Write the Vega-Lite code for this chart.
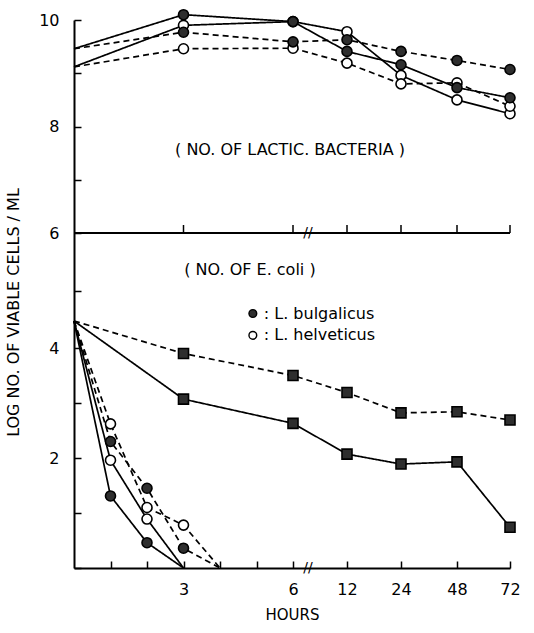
{
  "$schema": "https://vega.github.io/schema/vega-lite/v6.json",
  "width": 436,
  "height": 548,
  "autosize": {"type": "none"},
  "padding": {"left": 74, "top": 20, "right": 24, "bottom": 65},
  "background": "white",
  "config": {"view": {"stroke": null}, "font": "DejaVu Sans"},
  "datasets": {
    "obs": [
      {"group": "lactic", "culture": "helveticus", "set": "1", "series": "lactic-helveticus-1", "hour": 0, "value": 9.12},
      {"group": "lactic", "culture": "helveticus", "set": "1", "series": "lactic-helveticus-1", "hour": 3, "value": 9.9},
      {"group": "lactic", "culture": "helveticus", "set": "1", "series": "lactic-helveticus-1", "hour": 6, "value": 9.97},
      {"group": "lactic", "culture": "helveticus", "set": "1", "series": "lactic-helveticus-1", "hour": 12, "value": 9.78},
      {"group": "lactic", "culture": "helveticus", "set": "1", "series": "lactic-helveticus-1", "hour": 24, "value": 8.96},
      {"group": "lactic", "culture": "helveticus", "set": "1", "series": "lactic-helveticus-1", "hour": 48, "value": 8.5},
      {"group": "lactic", "culture": "helveticus", "set": "1", "series": "lactic-helveticus-1", "hour": 72, "value": 8.24},
      {"group": "lactic", "culture": "helveticus", "set": "2", "series": "lactic-helveticus-2", "hour": 0, "value": 9.12},
      {"group": "lactic", "culture": "helveticus", "set": "2", "series": "lactic-helveticus-2", "hour": 3, "value": 9.46},
      {"group": "lactic", "culture": "helveticus", "set": "2", "series": "lactic-helveticus-2", "hour": 6, "value": 9.47},
      {"group": "lactic", "culture": "helveticus", "set": "2", "series": "lactic-helveticus-2", "hour": 12, "value": 9.19},
      {"group": "lactic", "culture": "helveticus", "set": "2", "series": "lactic-helveticus-2", "hour": 24, "value": 8.8},
      {"group": "lactic", "culture": "helveticus", "set": "2", "series": "lactic-helveticus-2", "hour": 48, "value": 8.82},
      {"group": "lactic", "culture": "helveticus", "set": "2", "series": "lactic-helveticus-2", "hour": 72, "value": 8.38},
      {"group": "lactic", "culture": "bulgaricus", "set": "1", "series": "lactic-bulgaricus-1", "hour": 0, "value": 9.46},
      {"group": "lactic", "culture": "bulgaricus", "set": "1", "series": "lactic-bulgaricus-1", "hour": 3, "value": 10.1},
      {"group": "lactic", "culture": "bulgaricus", "set": "1", "series": "lactic-bulgaricus-1", "hour": 6, "value": 9.97},
      {"group": "lactic", "culture": "bulgaricus", "set": "1", "series": "lactic-bulgaricus-1", "hour": 12, "value": 9.41},
      {"group": "lactic", "culture": "bulgaricus", "set": "1", "series": "lactic-bulgaricus-1", "hour": 24, "value": 9.16},
      {"group": "lactic", "culture": "bulgaricus", "set": "1", "series": "lactic-bulgaricus-1", "hour": 48, "value": 8.73},
      {"group": "lactic", "culture": "bulgaricus", "set": "1", "series": "lactic-bulgaricus-1", "hour": 72, "value": 8.54},
      {"group": "lactic", "culture": "bulgaricus", "set": "2", "series": "lactic-bulgaricus-2", "hour": 0, "value": 9.46},
      {"group": "lactic", "culture": "bulgaricus", "set": "2", "series": "lactic-bulgaricus-2", "hour": 3, "value": 9.77},
      {"group": "lactic", "culture": "bulgaricus", "set": "2", "series": "lactic-bulgaricus-2", "hour": 6, "value": 9.59},
      {"group": "lactic", "culture": "bulgaricus", "set": "2", "series": "lactic-bulgaricus-2", "hour": 12, "value": 9.63},
      {"group": "lactic", "culture": "bulgaricus", "set": "2", "series": "lactic-bulgaricus-2", "hour": 24, "value": 9.41},
      {"group": "lactic", "culture": "bulgaricus", "set": "2", "series": "lactic-bulgaricus-2", "hour": 48, "value": 9.24},
      {"group": "lactic", "culture": "bulgaricus", "set": "2", "series": "lactic-bulgaricus-2", "hour": 72, "value": 9.07},
      {"group": "ecoli", "culture": "control", "set": "1", "series": "ecoli-control-1", "hour": 0, "value": 4.47},
      {"group": "ecoli", "culture": "control", "set": "1", "series": "ecoli-control-1", "hour": 3, "value": 3.07},
      {"group": "ecoli", "culture": "control", "set": "1", "series": "ecoli-control-1", "hour": 6, "value": 2.63},
      {"group": "ecoli", "culture": "control", "set": "1", "series": "ecoli-control-1", "hour": 12, "value": 2.07},
      {"group": "ecoli", "culture": "control", "set": "1", "series": "ecoli-control-1", "hour": 24, "value": 1.89},
      {"group": "ecoli", "culture": "control", "set": "1", "series": "ecoli-control-1", "hour": 48, "value": 1.93},
      {"group": "ecoli", "culture": "control", "set": "1", "series": "ecoli-control-1", "hour": 72, "value": 0.74},
      {"group": "ecoli", "culture": "control", "set": "2", "series": "ecoli-control-2", "hour": 0, "value": 4.47},
      {"group": "ecoli", "culture": "control", "set": "2", "series": "ecoli-control-2", "hour": 3, "value": 3.9},
      {"group": "ecoli", "culture": "control", "set": "2", "series": "ecoli-control-2", "hour": 6, "value": 3.5},
      {"group": "ecoli", "culture": "control", "set": "2", "series": "ecoli-control-2", "hour": 12, "value": 3.19},
      {"group": "ecoli", "culture": "control", "set": "2", "series": "ecoli-control-2", "hour": 24, "value": 2.82},
      {"group": "ecoli", "culture": "control", "set": "2", "series": "ecoli-control-2", "hour": 48, "value": 2.84},
      {"group": "ecoli", "culture": "control", "set": "2", "series": "ecoli-control-2", "hour": 72, "value": 2.69},
      {"group": "ecoli", "culture": "helveticus", "set": "1", "series": "ecoli-helveticus-1", "hour": 0, "value": 4.47},
      {"group": "ecoli", "culture": "helveticus", "set": "1", "series": "ecoli-helveticus-1", "hour": 1, "value": 1.96},
      {"group": "ecoli", "culture": "helveticus", "set": "1", "series": "ecoli-helveticus-1", "hour": 2, "value": 0.89},
      {"group": "ecoli", "culture": "helveticus", "set": "1", "series": "ecoli-helveticus-1", "hour": 3, "value": 0},
      {"group": "ecoli", "culture": "helveticus", "set": "2", "series": "ecoli-helveticus-2", "hour": 0, "value": 4.47},
      {"group": "ecoli", "culture": "helveticus", "set": "2", "series": "ecoli-helveticus-2", "hour": 1, "value": 2.62},
      {"group": "ecoli", "culture": "helveticus", "set": "2", "series": "ecoli-helveticus-2", "hour": 2, "value": 1.1},
      {"group": "ecoli", "culture": "helveticus", "set": "2", "series": "ecoli-helveticus-2", "hour": 3, "value": 0.78},
      {"group": "ecoli", "culture": "helveticus", "set": "2", "series": "ecoli-helveticus-2", "hour": 4, "value": 0},
      {"group": "ecoli", "culture": "bulgaricus", "set": "1", "series": "ecoli-bulgaricus-1", "hour": 0, "value": 4.47},
      {"group": "ecoli", "culture": "bulgaricus", "set": "1", "series": "ecoli-bulgaricus-1", "hour": 1, "value": 1.31},
      {"group": "ecoli", "culture": "bulgaricus", "set": "1", "series": "ecoli-bulgaricus-1", "hour": 2, "value": 0.46},
      {"group": "ecoli", "culture": "bulgaricus", "set": "1", "series": "ecoli-bulgaricus-1", "hour": 3, "value": 0},
      {"group": "ecoli", "culture": "bulgaricus", "set": "2", "series": "ecoli-bulgaricus-2", "hour": 0, "value": 4.47},
      {"group": "ecoli", "culture": "bulgaricus", "set": "2", "series": "ecoli-bulgaricus-2", "hour": 1, "value": 2.3},
      {"group": "ecoli", "culture": "bulgaricus", "set": "2", "series": "ecoli-bulgaricus-2", "hour": 2, "value": 1.45},
      {"group": "ecoli", "culture": "bulgaricus", "set": "2", "series": "ecoli-bulgaricus-2", "hour": 3, "value": 0.36},
      {"group": "ecoli", "culture": "bulgaricus", "set": "2", "series": "ecoli-bulgaricus-2", "hour": 4, "value": 0}
    ],
    "upperaxis": [
      {"start": 0, "end": 72, "level": 6}
    ],
    "uppertick": [
      {"hour": 3}, {"hour": 6}, {"hour": 12}, {"hour": 24}, {"hour": 48}, {"hour": 72}
    ],
    "notes": [
      {"label": "( NO. OF LACTIC. BACTERIA )", "hour": 5.92, "value": 7.56},
      {"label": "( NO. OF E. coli )", "hour": 4.82, "value": 5.36}
    ],
    "legend": [
      {"culture": "bulgaricus", "label": ": L. bulgalicus", "hour": 4.9, "texthour": 5.2, "value": 4.6},
      {"culture": "helveticus", "label": ": L. helveticus", "hour": 4.9, "texthour": 5.2, "value": 4.22}
    ],
    "breaks": [
      {"hour": 7.67, "value": 0},
      {"hour": 7.67, "value": 6}
    ]
  },
  "layer": [
    {
      "data": {"name": "obs"},
      "mark": {"type": "line", "color": "black", "strokeWidth": 1.7},
      "encoding": {
        "x": {
          "field": "hour", "type": "quantitative",
          "scale": {"domain": [0, 6, 12, 24, 48, 72], "range": [0, 219, 273, 327, 383, 436], "nice": false, "zero": false},
          "axis": {
            "values": [1, 2, 3, 4, 5, 6, 12, 24, 48, 72],
            "labelExpr": "(datum.value==1||datum.value==2||datum.value==4||datum.value==5)?'':datum.label",
            "grid": false, "domainColor": "black", "domainWidth": 2,
            "tickColor": "black", "tickSize": -7, "tickWidth": 1.5,
            "labelFontSize": 16, "labelColor": "black", "labelPadding": 20, "labelFlush": false,
            "title": "HOURS", "titleFontSize": 15, "titleFontWeight": "normal", "titleColor": "black", "titlePadding": 10
          }
        },
        "y": {
          "field": "value", "type": "quantitative",
          "scale": {"domain": [0, 4, 6, 10], "range": [548, 328, 213, 0], "nice": false, "zero": false},
          "axis": {
            "values": [0, 1, 2, 3, 4, 5, 6, 7, 8, 9, 10],
            "labelExpr": "(datum.value%2==0 && datum.value>0)?datum.label:''",
            "grid": false, "domainColor": "black", "domainWidth": 2,
            "tickColor": "black", "tickSize": -7, "tickWidth": 1.5,
            "labelFontSize": 16, "labelColor": "black", "labelPadding": 22,
            "title": "LOG NO. OF VIABLE CELLS / ML", "titleFontSize": 16, "titleFontWeight": "normal", "titleColor": "black",
            "titleX": -53, "titleY": 292
          }
        },
        "detail": {"field": "series"},
        "strokeDash": {
          "field": "set", "type": "nominal",
          "scale": {"domain": ["1", "2"], "range": [[1, 0], [6, 4]]},
          "legend": null
        }
      }
    },
    {
      "data": {"name": "obs"},
      "transform": [{"filter": "datum.hour > 0 && datum.value > 0"}],
      "mark": {"type": "point", "filled": true, "stroke": "black", "strokeWidth": 1.6, "size": 100, "opacity": 1},
      "encoding": {
        "x": {"field": "hour", "type": "quantitative"},
        "y": {"field": "value", "type": "quantitative"},
        "shape": {
          "field": "culture", "type": "nominal",
          "scale": {"domain": ["bulgaricus", "helveticus", "control"], "range": ["circle", "circle", "square"]},
          "legend": null
        },
        "fill": {
          "field": "culture", "type": "nominal",
          "scale": {"domain": ["bulgaricus", "helveticus", "control"], "range": ["#2e2e2e", "white", "#2e2e2e"]},
          "legend": null
        }
      }
    },
    {
      "data": {"name": "upperaxis"},
      "mark": {"type": "rule", "color": "black", "strokeWidth": 2},
      "encoding": {
        "x": {"field": "start", "type": "quantitative"},
        "x2": {"field": "end"},
        "y": {"field": "level", "type": "quantitative"}
      }
    },
    {
      "data": {"name": "uppertick"},
      "mark": {"type": "rule", "color": "black", "strokeWidth": 1.5},
      "encoding": {
        "x": {"field": "hour", "type": "quantitative"},
        "y": {"datum": 6, "type": "quantitative"},
        "y2": {"datum": 6.15}
      }
    },
    {
      "data": {"name": "breaks"},
      "mark": {"type": "text", "text": "//", "fontSize": 14, "color": "black", "baseline": "middle", "align": "center"},
      "encoding": {
        "x": {"field": "hour", "type": "quantitative"},
        "y": {"field": "value", "type": "quantitative"}
      }
    },
    {
      "data": {"name": "notes"},
      "mark": {"type": "text", "fontSize": 16, "color": "black", "baseline": "middle", "align": "center"},
      "encoding": {
        "x": {"field": "hour", "type": "quantitative"},
        "y": {"field": "value", "type": "quantitative"},
        "text": {"field": "label"}
      }
    },
    {
      "data": {"name": "legend"},
      "mark": {"type": "point", "filled": true, "stroke": "black", "strokeWidth": 1.4, "size": 60, "shape": "circle", "opacity": 1},
      "encoding": {
        "x": {"field": "hour", "type": "quantitative"},
        "y": {"field": "value", "type": "quantitative"},
        "fill": {"field": "culture", "type": "nominal"}
      }
    },
    {
      "data": {"name": "legend"},
      "mark": {"type": "text", "fontSize": 16, "color": "black", "baseline": "middle", "align": "left"},
      "encoding": {
        "x": {"field": "texthour", "type": "quantitative"},
        "y": {"field": "value", "type": "quantitative"},
        "text": {"field": "label"}
      }
    }
  ]
}
